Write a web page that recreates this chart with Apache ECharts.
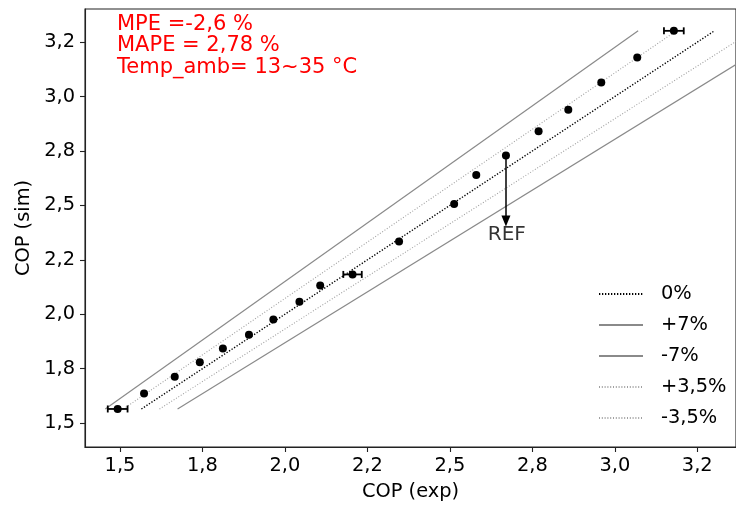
<!DOCTYPE html>
<html>
<head>
<meta charset="utf-8">
<script src="https://cdn.jsdelivr.net/npm/echarts@6/dist/echarts.min.js"></script>
<style>html,body{margin:0;padding:0;background:#fff}#c{width:736px;height:506px}</style>
</head>
<body>
<div id="c"></div>
<script>
// COP measured (exp) vs simulated (sim)
const copExp = [1.493, 1.573, 1.666, 1.742, 1.812, 1.891, 1.965, 2.044, 2.107, 2.205, 2.346, 2.513, 2.580, 2.670, 2.769, 2.859, 2.959, 3.068, 3.179];
const copSim = [1.565, 1.636, 1.713, 1.780, 1.843, 1.906, 1.976, 2.058, 2.132, 2.183, 2.334, 2.506, 2.640, 2.729, 2.841, 2.940, 3.065, 3.180, 3.302];
// x error bars (exp uncertainty) on selected points
const errX = [1.493, 2.205, 3.179];
const errY = [1.565, 2.183, 3.302];
const errHalf = [0.030, 0.028, 0.030];
// reference band lines: sim range and deviations
const refSimRange = [1.565, 3.302];
const bandNames = ['0%', '+7%', '-7%', '+3,5%', '-3,5%'];
const bandPct = [0, 0.07, -0.07, 0.035, -0.035];
// tick values and labels
const tickValues = [1.5, 1.75, 2.0, 2.25, 2.5, 2.75, 3.0, 3.25];
const tickLabels = ['1,5', '1,8', '2,0', '2,2', '2,5', '2,8', '3,0', '3,2'];
// REF arrow
const arrowFrom = [2.670, 2.729];
const arrowTo = [2.670, 2.428];
const refLabelPos = [2.6728, 2.364];
const noteLines = ['MPE =-2,6 %', 'MAPE = 2,78 %', 'Temp_amb= 13~35 °C'];

const FONT = 'DejaVu Sans';
const bandStyles = [
  {color: '#000000', width: 1.4, type: [1.3, 1.7]},
  {color: '#8a8a8a', width: 1.2, type: 'solid'},
  {color: '#8a8a8a', width: 1.2, type: 'solid'},
  {color: '#a0a0a0', width: 1.1, type: [1, 1.8]},
  {color: '#a0a0a0', width: 1.1, type: [1, 1.8]}
];

const fmt = v => {
  const i = tickValues.findIndex(t => Math.abs(t - v) < 1e-6);
  return i >= 0 ? tickLabels[i] : '';
};

const series = [];
bandNames.forEach((name, i) => {
  series.push({
    name: name,
    type: 'line',
    data: refSimRange.map(y => [y * (1 - bandPct[i]), y]),
    showSymbol: false,
    symbol: 'none',
    symbolSize: 0,
    lineStyle: bandStyles[i],
    itemStyle: {color: bandStyles[i].color, opacity: 0},
    silent: true,
    z: 2,
    animation: false
  });
});

series.push({
  name: 'err',
  type: 'custom',
  data: errX.map((x, i) => [x, errY[i], errHalf[i]]),
  renderItem: function (params, api) {
    const x = api.value(0), y = api.value(1), e = api.value(2);
    const p1 = api.coord([x - e, y]);
    const p2 = api.coord([x + e, y]);
    const st = {stroke: '#000', lineWidth: 1.8};
    const c = 3.5;
    return {
      type: 'group',
      children: [
        {type: 'line', shape: {x1: p1[0], y1: p1[1], x2: p2[0], y2: p2[1]}, style: st},
        {type: 'line', shape: {x1: p1[0], y1: p1[1] - c, x2: p1[0], y2: p1[1] + c}, style: st},
        {type: 'line', shape: {x1: p2[0], y1: p2[1] - c, x2: p2[0], y2: p2[1] + c}, style: st}
      ]
    };
  },
  z: 3,
  silent: true,
  animation: false
});

series.push({
  name: 'points',
  type: 'scatter',
  data: copExp.map((x, i) => [x, copSim[i]]),
  symbolSize: 8,
  itemStyle: {color: '#000', opacity: 1},
  z: 4,
  silent: true,
  animation: false,
  markLine: {
    silent: true,
    animation: false,
    symbol: ['none', 'triangle'],
    symbolSize: [9, 11],
    label: {show: false},
    lineStyle: {color: '#000', width: 1.5, type: 'solid'},
    data: [[{coord: arrowFrom}, {coord: arrowTo}]]
  }
});

series.push({
  name: 'ref',
  type: 'scatter',
  data: [refLabelPos],
  symbolSize: 0,
  silent: true,
  animation: false,
  label: {show: true, position: 'inside', formatter: 'REF', color: '#000', fontSize: 20, fontFamily: FONT}
});

const chart = echarts.init(document.getElementById('c'), null, {renderer: 'canvas'});
chart.setOption({
  animation: false,
  backgroundColor: '#fff',
  textStyle: {fontFamily: FONT},
  grid: {left: 85, top: 9, right: -2, bottom: 57, show: true, borderColor: '#222', borderWidth: 1.1, backgroundColor: 'transparent'},
  xAxis: {
    type: 'value', min: 1.394, max: 3.3674,
    name: 'COP (exp)', nameLocation: 'middle', nameGap: 35,
    nameTextStyle: {fontSize: 19.4, color: '#000', fontFamily: FONT},
    axisLine: {show: true, lineStyle: {color: '#222', width: 1.1}},
    axisTick: {show: true, inside: false, length: 5, customValues: tickValues, lineStyle: {color: '#222', width: 1.1}},
    axisLabel: {show: true, customValues: tickValues, formatter: fmt, fontSize: 19.4, color: '#000', margin: 9, fontFamily: FONT},
    splitLine: {show: false}
  },
  yAxis: {
    type: 'value', min: 1.3903, max: 3.4023,
    name: 'COP (sim)', nameLocation: 'middle', nameGap: 47, nameRotate: 90,
    nameTextStyle: {fontSize: 19.4, color: '#000', fontFamily: FONT},
    axisLine: {show: true, lineStyle: {color: '#222', width: 1.1}},
    axisTick: {show: true, inside: false, length: 5, customValues: tickValues, lineStyle: {color: '#222', width: 1.1}},
    axisLabel: {show: true, customValues: tickValues, formatter: fmt, fontSize: 19.4, color: '#000', margin: 10, fontFamily: FONT},
    splitLine: {show: false}
  },
  legend: {
    data: bandNames,
    orient: 'vertical',
    left: 598, top: 284,
    padding: 0,
    itemWidth: 44, itemHeight: 20, itemGap: 11,
    itemStyle: {opacity: 0},
    textStyle: {fontSize: 19.4, color: '#000', fontFamily: FONT, lineHeight: 20, padding: [0, 0, 0, 13]},
    selectedMode: false
  },
  graphic: [{
    type: 'text',
    left: 117, top: 14,
    style: {text: noteLines.join('\n'), fill: '#ff0000', fontSize: 21, fontFamily: FONT, lineHeight: 21.3}
  }],
  series: series
});
</script>
</body>
</html>
